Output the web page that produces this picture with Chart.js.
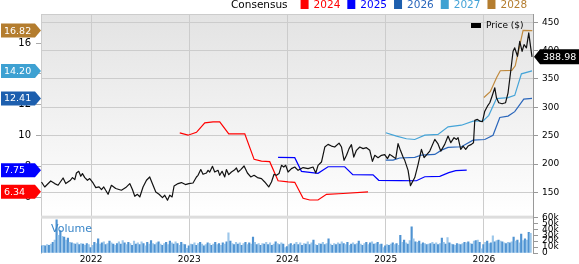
<!DOCTYPE html>
<html>
<head>
<meta charset="utf-8">
<script src="https://cdn.jsdelivr.net/npm/chart.js@4"></script>
<style>
  html, body { margin: 0; padding: 0; background: #fff; }
  #wrap { width: 579px; height: 264px; position: relative; }
</style>
</head>
<body>
<div id="wrap"><canvas id="chart" width="579" height="264"></canvas></div>
<script>
// price, weekly-ish closes (decimal years)
const priceT = [2021.495,2021.528,2021.589,2021.630,2021.664,2021.715,2021.742,2021.790,2021.810,2021.834,2021.851,2021.874,2021.895,2021.912,2021.936,2021.963,2021.986,
  2022.020,2022.048,2022.081,2022.106,2022.129,2022.173,2022.207,2022.251,2022.309,2022.353,2022.394,2022.421,2022.445,2022.472,2022.496,2022.529,2022.564,2022.597,2022.631,2022.659,2022.692,2022.727,2022.750,2022.778,2022.801,2022.825,2022.845,2022.886,2022.920,2022.961,2022.995,
  2023.038,2023.073,2023.089,2023.117,2023.140,2023.175,2023.191,2023.208,2023.236,2023.259,2023.293,2023.310,2023.334,2023.361,2023.378,2023.402,2023.429,2023.456,2023.480,2023.497,2023.524,2023.558,2023.592,2023.626,2023.660,2023.694,2023.735,2023.768,2023.809,2023.837,2023.863,2023.888,2023.914,2023.939,2023.962,2023.982,
  2024.006,2024.040,2024.074,2024.108,2024.159,2024.210,2024.260,2024.288,2024.311,2024.346,2024.380,2024.413,2024.448,2024.481,2024.525,2024.550,2024.576,2024.601,2024.627,2024.651,2024.675,2024.702,2024.736,2024.770,2024.804,2024.838,2024.865,2024.889,2024.922,2024.957,2024.990,
  2025.018,2025.041,2025.069,2025.102,2025.126,2025.150,2025.177,2025.194,2025.228,2025.252,2025.296,2025.330,2025.364,2025.391,2025.449,2025.500,2025.533,2025.561,2025.601,2025.635,2025.663,2025.696,2025.721,2025.737,2025.764,2025.788,2025.815,2025.839,2025.873,2025.894,2025.907,2025.934,2025.958,2025.985,
  2026.009,2026.036,2026.060,2026.083,2026.111,2026.128,2026.151,2026.185,2026.220,2026.246,2026.273,2026.297,2026.314,2026.342,2026.365,2026.389,2026.409,2026.433,2026.457,2026.477,2026.490];
const priceV = [168.5,159.7,170.2,165.6,162.7,175.5,165.6,171.5,176.2,172.7,184.3,187.3,178.5,183.2,176.2,171.5,174.4,
  166.7,158.6,159.7,155.1,159.7,146.8,162.7,156.9,153.9,158.6,165.6,155.1,143.3,146.8,142.1,159.7,171.5,177.3,162.7,150.9,146.8,141.0,145.1,136.3,145.1,142.1,161.4,165.6,167.4,163.9,165.6,
  166.7,177.3,180.2,190.3,182.0,184.3,189.0,186.0,196.1,186.0,189.0,180.2,187.3,177.3,190.3,181.4,186.0,189.0,193.1,186.0,190.3,196.6,184.3,177.3,180.2,176.2,174.4,168.5,159.7,168.5,182.0,180.2,183.2,197.8,194.8,197.8,
  186.0,192.0,194.8,189.0,193.8,192.0,194.8,184.3,197.8,203.6,230.0,234.7,231.7,230.0,237.0,230.0,206.6,215.4,227.2,234.2,212.4,224.2,230.0,227.2,228.9,224.2,204.8,215.4,211.3,215.4,216.6,
  209.6,217.1,213.6,209.6,235.9,224.2,212.4,206.6,189.0,162.0,176.2,199.6,225.9,211.3,222.9,243.5,235.5,222.9,234.7,249.3,237.7,246.5,243.5,246.5,225.9,231.7,225.9,231.7,234.7,237.7,276.9,278.7,275.7,274.6,
  293.2,302.0,308.0,319.6,334.4,316.8,308.0,306.2,308.0,325.6,363.5,398.7,404.7,389.9,416.3,398.7,410.5,404.7,431.0,404.7,388.98];

// consensus EPS per fiscal year
const eps24T = [2022.903,2022.987,2023.073,2023.158,2023.242,2023.310,2023.402,2023.565,2023.660,2023.735,2023.819,2023.904,2024.006,2024.074,2024.159,2024.227,2024.311,2024.397,2024.566,2024.820];
const eps24V = [10.17,10.02,10.21,10.82,10.89,10.89,10.11,10.11,8.45,8.34,8.30,7.06,6.99,6.96,5.92,5.81,5.81,6.18,6.23,6.34];
const eps25T = [2023.904,2024.074,2024.142,2024.311,2024.413,2024.583,2024.665,2024.871,2024.929,2025.143,2025.313,2025.398,2025.551,2025.642,2025.713,2025.825];
const eps25V = [8.58,8.56,7.67,7.54,7.97,7.97,7.46,7.44,7.09,7.07,7.06,7.32,7.35,7.59,7.72,7.75];
const eps26T = [2025.001,2025.075,2025.143,2025.296,2025.364,2025.500,2025.568,2025.635,2025.771,2025.890,2026.009,2026.093,2026.162,2026.246,2026.314,2026.406,2026.490];
const eps26V = [8.40,8.40,8.54,8.58,8.73,8.77,9.05,9.23,9.27,9.70,9.74,10.02,11.17,11.26,11.55,12.36,12.41];
const eps27T = [2025.001,2025.110,2025.211,2025.296,2025.398,2025.533,2025.635,2025.771,2025.890,2025.992,2026.050,2026.128,2026.246,2026.314,2026.382,2026.490];
const eps27V = [10.18,9.96,9.79,9.74,10.02,10.07,10.56,10.67,10.93,10.95,11.31,12.40,12.46,12.61,14.01,14.20];
const eps28T = [2026.000,2026.065,2026.131,2026.167,2026.284,2026.319,2026.355,2026.399,2026.493];
const eps28V = [12.47,12.85,13.79,14.21,14.23,14.53,15.57,16.83,16.82];

// weekly volume in thousands, first week mid 2021
const volStart = 2021.495;
const volumeK = [12,13,12,14,13,15,18,22,56,30,38,28,27,
  22,25,18,17,16,15,17,14,16,15,13,16,14,
  9,13,18,16,24,15,17,19,14,16,20,17,15,
  13,16,19,15,21,17,14,18,16,13,20,15,17,
  14,19,16,12,18,15,21,16,14,17,19,15,13,
  16,18,14,20,17,15,19,16,13,18,15,14,8,
  12,15,14,17,13,16,18,15,12,14,17,16,13,
  15,18,14,16,13,17,15,19,34,20,16,14,18,
  15,17,13,16,18,14,17,15,27,18,14,16,13,
  16,15,18,14,17,13,15,19,16,14,17,15,9,
  11,14,16,13,15,18,14,17,13,16,15,19,14,
  17,22,14,13,16,15,18,14,16,24,15,13,16,
  14,17,15,19,16,14,18,13,15,17,14,16,20,
  15,13,16,18,14,17,19,15,16,18,14,15,9,
  12,14,13,15,17,14,16,13,30,18,22,17,15,
  21,44,24,19,18,20,15,17,16,14,15,16,18,
  15,17,14,16,25,18,15,26,17,15,14,13,16,
  15,14,16,18,17,19,16,15,20,21,22,18,7,
  14,18,20,16,17,29,19,21,22,20,19,17,16,
  18,17,19,27,20,22,17,32,21,24,22,35,33];

const yearTicks = [2022, 2023, 2024, 2025, 2026];
const priceTicks = [150, 200, 250, 300, 350, 400, 450];
const epsTicks = [6, 8, 10, 12, 14, 16];
const volTicks = [0, 10, 20, 30, 40, 50, 60];

const series = [
  { name: '2024', t: eps24T, v: eps24V, line: '#ff0000', flag: '#ff0000' },
  { name: '2025', t: eps25T, v: eps25V, line: '#0000ff', flag: '#0000ff' },
  { name: '2026', t: eps26T, v: eps26V, line: '#2a66bb', flag: '#1d5fae' },
  { name: '2027', t: eps27T, v: eps27V, line: '#45a4d8', flag: '#3ea1d2' },
  { name: '2028', t: eps28T, v: eps28V, line: '#c08a3e', flag: '#b47d2f' },
];

const FONT = '"DejaVu Sans", sans-serif';
Chart.defaults.font.family = FONT;
Chart.defaults.color = '#000';

const pts = (t, v) => t.map((x, i) => ({ x, y: v[i] }));
const fixTicks = list => scale => { scale.ticks = list.map(value => ({ value })); };

function flag(ctx, y, color, text, right) {
  ctx.fillStyle = color;
  ctx.beginPath();
  if (!right) {
    ctx.moveTo(1, y - 7); ctx.lineTo(35, y - 7); ctx.lineTo(41, y);
    ctx.lineTo(35, y + 7); ctx.lineTo(1, y + 7);
  } else {
    ctx.moveTo(579, y - 7.5); ctx.lineTo(540, y - 7.5); ctx.lineTo(534, y);
    ctx.lineTo(540, y + 7.5); ctx.lineTo(579, y + 7.5);
  }
  ctx.closePath();
  ctx.fill();
  ctx.fillStyle = '#fff';
  ctx.font = '9.5px ' + FONT;
  ctx.textAlign = 'left';
  ctx.textBaseline = 'middle';
  ctx.fillText(text, right ? 543 : 4, y + 0.5);
}

const decor = {
  id: 'decor',
  beforeDraw(chart) {
    const { ctx, chartArea: a, scales } = chart;
    const pb = scales.yP.bottom;
    const g = ctx.createLinearGradient(0, a.top, 0, pb);
    g.addColorStop(0, '#e3e3e3');
    g.addColorStop(1, '#ffffff');
    ctx.save();
    ctx.fillStyle = g;
    ctx.fillRect(a.left, a.top, a.right - a.left, pb - a.top);
    ctx.restore();
  },
  beforeDatasetsDraw(chart) {
    const { ctx, chartArea: a, scales } = chart;
    const pb = scales.yP.bottom;
    ctx.save();
    ctx.fillStyle = '#dddddd';
    ctx.fillRect(a.left, pb - 1.5, a.right - a.left, 3);
    ctx.strokeStyle = '#cccccc';
    ctx.lineWidth = 1;
    ctx.beginPath();
    ctx.moveTo(a.left, a.top + 0.5); ctx.lineTo(a.right, a.top + 0.5);
    ctx.stroke();
    ctx.restore();
  },
  afterDraw(chart) {
    const { ctx, scales } = chart;
    ctx.save();
    // header legend
    ctx.textBaseline = 'middle';
    ctx.textAlign = 'left';
    ctx.font = '10.5px ' + FONT;
    ctx.fillStyle = '#000';
    ctx.fillText('Consensus', 231, 5);
    let x = 231 + ctx.measureText('Consensus').width + 13;
    series.forEach(s => {
      ctx.fillStyle = s.flag;
      ctx.fillRect(x, 0, 8, 9);
      ctx.fillStyle = s.line === '#c08a3e' ? '#b47d2f' : s.line;
      ctx.fillText(s.name, x + 13, 5);
      x += 13 + ctx.measureText(s.name).width + 7;
    });
    // price legend
    ctx.fillStyle = '#000';
    ctx.fillRect(471, 23, 10, 5);
    ctx.font = '9px ' + FONT;
    ctx.fillText('Price ($)', 486, 25.5);
    // volume label
    ctx.fillStyle = '#3a86c8';
    ctx.font = '11px ' + FONT;
    ctx.fillText('Volume', 51, 229);
    // flags
    series.forEach(s => {
      const last = s.v[s.v.length - 1];
      flag(ctx, scales.yE.getPixelForValue(last), s.flag, last.toFixed(2), false);
    });
    const lastP = priceV[priceV.length - 1];
    flag(ctx, scales.yP.getPixelForValue(lastP), '#000', lastP.toFixed(2), true);
    ctx.restore();
  }
};

const datasets = [
  {
    type: 'bar', label: 'Volume', yAxisID: 'yV', xAxisID: 'x',
    data: volumeK.map((v, i) => ({ x: volStart + i / 52, y: v })),
    backgroundColor: volumeK.map((v, i) => i % 2 ? '#9dc7ea' : '#4f93d2'),
    barThickness: 1.5, grouped: false, borderWidth: 0,
  },
  {
    type: 'line', label: 'Price', yAxisID: 'yP', xAxisID: 'x',
    data: pts(priceT, priceV), borderColor: '#111', borderWidth: 1.2,
    pointRadius: 0, tension: 0, borderJoinStyle: 'round',
  },
  ...series.map(s => ({
    type: 'line', label: s.name, yAxisID: 'yE', xAxisID: 'x',
    data: pts(s.t, s.v), borderColor: s.line, borderWidth: 1.2,
    pointRadius: 0, tension: 0,
  })),
];

new Chart(document.getElementById('chart').getContext('2d'), {
  type: 'line',
  data: { datasets },
  plugins: [decor],
  options: {
    responsive: false,
    animation: false,
    events: [],
    layout: { padding: { top: 14, left: 0, right: 0, bottom: 0 } },
    plugins: { legend: { display: false }, tooltip: { enabled: false } },
    scales: {
      x: {
        type: 'linear', position: 'bottom', min: 2021.49, max: 2026.5, offset: false,
        afterBuildTicks: fixTicks(yearTicks),
        afterFit: s => { s.height = 10; },
        ticks: { font: { size: 9 }, padding: 1, maxRotation: 0, autoSkip: false, callback: v => String(v) },
        grid: { color: '#cccccc', drawTicks: false, offset: false },
        border: { display: false },
      },
      yP: {
        type: 'linear', position: 'right', stack: 'r', stackWeight: 204,
        min: 106.5, max: 464.4,
        afterBuildTicks: fixTicks(priceTicks),
        afterFit: s => { s.width = 46; },
        ticks: { font: { size: 9 }, padding: 4, autoSkip: false },
        grid: { color: '#cccccc', tickColor: '#999', tickLength: 5 },
        border: { color: '#999' },
      },
      yV: {
        type: 'linear', position: 'right', stack: 'r', stackWeight: 36,
        min: 0, max: 60.5,
        afterBuildTicks: fixTicks(volTicks),
        afterFit: s => { s.width = 46; },
        ticks: { font: { size: 9 }, padding: 4, autoSkip: false, callback: v => v === 0 ? '0' : v + 'k' },
        grid: { drawOnChartArea: false, tickColor: '#999', tickLength: 5 },
        border: { color: '#999' },
      },
      yE: {
        type: 'linear', position: 'left', min: 2.364, max: 17.897,
        afterBuildTicks: fixTicks(epsTicks),
        afterFit: s => { s.width = 41; },
        ticks: { font: { size: 10 }, padding: 5, autoSkip: false },
        grid: { drawOnChartArea: false, tickColor: '#aaa', tickLength: 5 },
        border: { color: '#cccccc' },
      },
    },
  },
});
</script>
</body>
</html>
